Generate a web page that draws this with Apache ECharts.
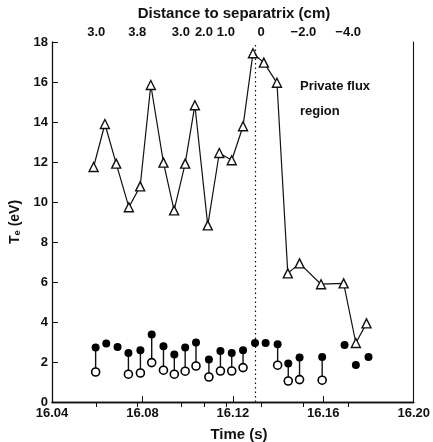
<!DOCTYPE html>
<html><head><meta charset="utf-8">
<script src="https://cdn.jsdelivr.net/npm/echarts@6/dist/echarts.min.js"></script>
<style>html,body{margin:0;padding:0;background:#fff}#c{width:433px;height:442px}</style>
</head><body><div id="c"></div>
<script>
// Triangle series: Te (eV) vs time (s)
const triTime = [16.0584,16.0634,16.0684,16.0740,16.0790,16.0837,16.0893,16.0940,16.0989,16.1032,16.1089,16.1140,16.1195,16.1245,16.1289,16.1337,16.1395,16.1443,16.1495,16.1590,16.1690,16.1744,16.1791];
const triTe   = [11.75,13.9,11.92,9.74,10.78,15.85,11.97,9.58,11.92,14.84,8.83,12.45,12.09,13.79,17.44,16.97,15.96,6.43,6.93,5.89,5.93,2.95,3.93];
// Circle series (filled and open), same times
const circTime  = [16.0593,16.0640,16.0690,16.0738,16.0791,16.0841,16.0893,16.0941,16.0989,16.1037,16.1094,16.1145,16.1195,16.1245,16.1298,16.1345,16.1398,16.1445,16.1495,16.1595,16.1694,16.1744,16.1800];
const filledTe  = [2.72,2.92,2.75,2.45,2.59,3.37,2.79,2.37,2.72,2.97,2.13,2.55,2.45,2.59,2.95,2.95,2.89,1.92,2.22,2.25,2.85,1.85,2.25];
const openTe    = [1.50,null,null,1.39,1.45,1.97,1.59,1.39,1.54,1.80,1.25,1.55,1.55,1.72,null,null,1.84,1.05,1.12,1.09,null,null,null];
// Axes
const timeTicks = [16.04,16.08,16.12,16.16,16.20];
const distPos    = [16.0596,16.0777,16.0970,16.1072,16.1169,16.1325,16.1512,16.1710];
const distLabels = ['3.0','3.8','3.0','2.0','1.0','0','\u22122.0','\u22124.0'];
const separatrixTime = 16.1332;
const teTicks = [0,2,4,6,8,10,12,14,16,18];

const F = '"Liberation Sans", Arial, sans-serif';
const chart = echarts.init(document.getElementById('c'));
const stems = circTime.map((t,i)=> openTe[i]==null ? null : [t, filledTe[i], openTe[i]]).filter(d=>d);
chart.setOption({
  animation:false,
  backgroundColor:'#fff',
  grid:{left:52,right:19,top:42,bottom:40},
  title:[
    {text:'Distance to separatrix (cm)',left:229,top:1,textAlign:'center',textStyle:{fontFamily:F,fontSize:15,fontWeight:'bold',color:'#111'}},
    {text:'Time (s)',left:234,top:422,textAlign:'center',textStyle:{fontFamily:F,fontSize:15,fontWeight:'bold',color:'#111'}}
  ],
  graphic:[
    {type:'text',left:300,top:80,style:{text:'Private flux',font:'bold 13px '+F,fill:'#111'}},
    {type:'text',left:300,top:105,style:{text:'region',font:'bold 13px '+F,fill:'#111'}},
    {type:'text',x:15,y:222,rotation:Math.PI/2,style:{text:'T\u2091 (eV)',font:'bold 14px '+F,fill:'#111',align:'center',verticalAlign:'middle'}}
  ],
  xAxis:[
    {type:'value',min:timeTicks[0],max:timeTicks[timeTicks.length-1],interval:0.04,position:'bottom',
     axisLine:{lineStyle:{color:'#111',width:1.3}},
     axisTick:{inside:true,length:6,lineStyle:{color:'#111'}},
     axisLabel:{fontFamily:F,fontSize:13,fontWeight:'bold',color:'#111',margin:5,formatter:v=>v.toFixed(2)},
     splitLine:{show:false}},
    {type:'value',min:timeTicks[0],max:timeTicks[timeTicks.length-1],position:'top',
     axisLine:{lineStyle:{color:'#111',width:1.3}},
     axisTick:{inside:true,length:5,customValues:distPos,lineStyle:{color:'#111'}},
     axisLabel:{fontFamily:F,fontSize:13,fontWeight:'bold',color:'#111',margin:3,customValues:distPos,
       formatter:v=>{let k=0,b=1e9;distPos.forEach((p,i)=>{const d=Math.abs(p-v);if(d<b){b=d;k=i;}});return distLabels[k];}},
     splitLine:{show:false}}
  ],
  yAxis:[
    {type:'value',min:0,max:18,interval:2,
     axisLine:{show:true,lineStyle:{color:'#111',width:1.3}},
     axisTick:{show:true,inside:true,length:6,lineStyle:{color:'#111'}},
     axisLabel:{fontFamily:F,fontSize:13,fontWeight:'bold',color:'#111',margin:4,formatter:v=>teTicks.includes(v)?String(v):''},
     splitLine:{show:false}},
    {type:'value',min:0,max:18,position:'right',
     axisLine:{show:true,lineStyle:{color:'#111',width:1.1}},
     axisTick:{show:false},axisLabel:{show:false},splitLine:{show:false}}
  ],
  series:[
    {type:'line',data:triTime.map((t,i)=>[t,triTe[i]]),symbol:'triangle',symbolSize:9,
     lineStyle:{color:'#111',width:1.2},itemStyle:{color:'#fff',borderColor:'#111',borderWidth:1.4,opacity:1},z:3,
     markLine:{silent:true,symbol:'none',label:{show:false},
       lineStyle:{type:[1.5,3],color:'#111',width:1.2},data:[{xAxis:separatrixTime}]}},
    {type:'custom',renderItem:(params,api)=>{
        const a=api.coord([api.value(0),api.value(1)]), b=api.coord([api.value(0),api.value(2)]);
        return {type:'line',shape:{x1:a[0],y1:a[1],x2:b[0],y2:b[1]},style:{stroke:'#111',lineWidth:1.4}};
      },data:stems,z:2},
    {type:'scatter',data:circTime.map((t,i)=>[t,filledTe[i]]),symbol:'circle',symbolSize:8,
     itemStyle:{color:'#000',opacity:1},z:4},
    {type:'scatter',data:circTime.map((t,i)=>openTe[i]==null?null:[t,openTe[i]]).filter(d=>d),symbol:'circle',symbolSize:8,
     itemStyle:{color:'#fff',borderColor:'#000',borderWidth:1.6,opacity:1},z:4}
  ]
});
</script></body></html>
